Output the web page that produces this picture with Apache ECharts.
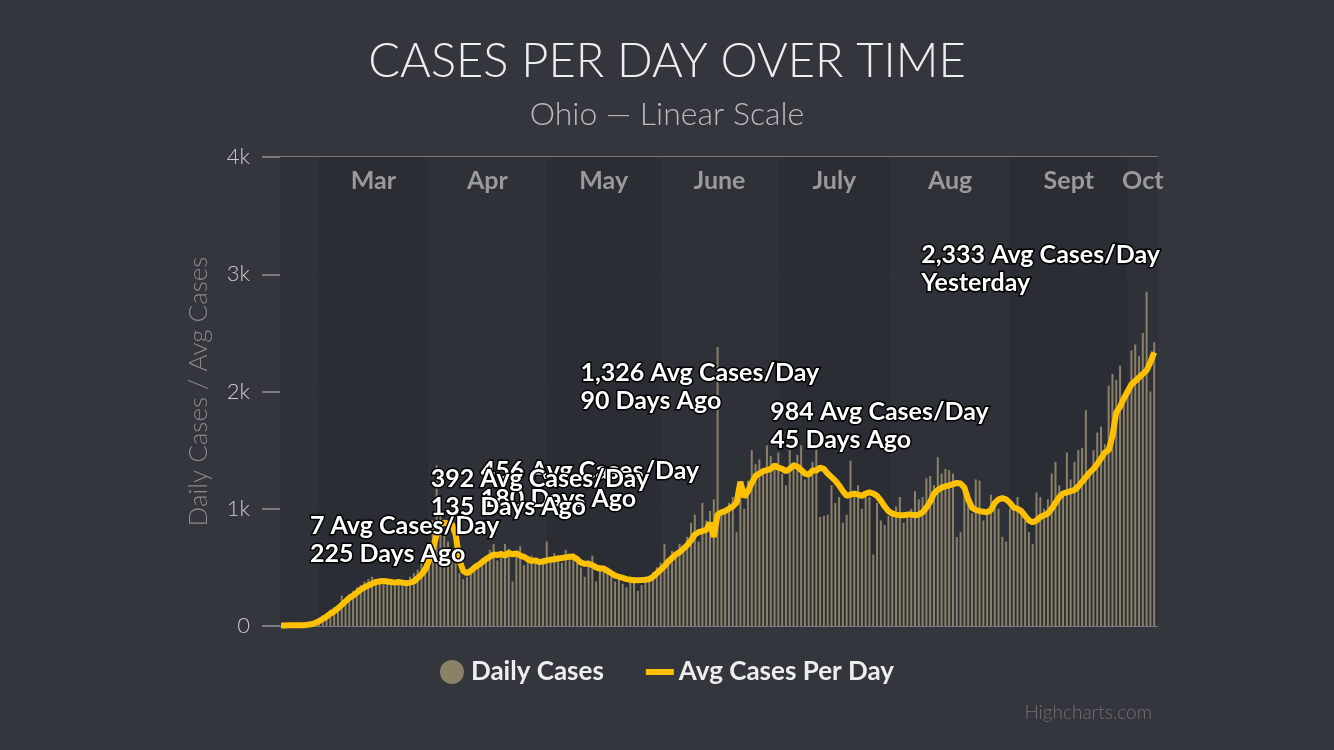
<!DOCTYPE html>
<html><head><meta charset="utf-8">
<script src="https://cdn.jsdelivr.net/npm/echarts@6/dist/echarts.min.js"></script>
<style>html,body{margin:0;background:#33363d}#c{width:1334px;height:750px}</style>
</head><body><div id="c"></div>
<script>
const avgCases = [null,null,null,null,null,5,5,6,7,7,
7,7,10,15,25,40,60,80,105,125,
150,180,210,240,260,285,310,330,345,360,
375,380,385,380,375,370,375,370,365,370,
380,410,440,480,560,660,780,870,880,875,
870,780,560,470,450,470,500,520,545,570,
590,610,605,615,600,625,610,620,600,590,
570,555,560,545,550,560,565,570,575,580,
585,590,590,570,540,530,530,520,500,490,
490,470,450,430,420,410,400,395,390,390,
392,395,400,420,450,480,510,550,580,610,
630,660,690,730,780,800,810,820,880,760,
950,970,980,1000,1020,1050,1230,1100,1150,1220,
1280,1300,1320,1330,1340,1370,1350,1340,1320,1340,
1370,1360,1330,1300,1290,1326,1326,1350,1340,1300,
1270,1240,1200,1150,1110,1120,1130,1120,1110,1130,
1140,1130,1110,1070,1020,980,960,950,945,945,
950,950,945,950,970,1010,1060,1130,1160,1180,
1190,1200,1210,1220,1215,1180,1080,1010,990,980,
975,970,990,1050,1080,1090,1080,1050,1010,1000,
980,940,900,885,900,930,945,960,1000,1050,
1100,1130,1140,1150,1160,1190,1230,1270,1310,1340,
1380,1430,1480,1500,1620,1820,1870,1940,2000,2060,
2090,2120,2150,2180,2250,2333];
const dailyCases = [null,null,null,null,null,3,2,4,5,8,
10,15,20,30,50,70,90,110,140,160,
180,260,240,270,300,330,350,380,400,420,
390,410,380,360,400,370,350,390,380,420,
450,480,540,620,700,900,1370,1000,780,720,
650,560,450,400,420,480,500,540,580,600,
650,700,560,640,700,660,380,620,680,520,
560,600,540,520,580,720,560,620,600,540,
650,560,620,540,500,420,560,600,380,520,
480,500,430,380,400,360,330,420,380,300,
350,420,380,460,500,540,700,560,640,600,
700,680,760,880,950,720,1050,900,980,1080,
2380,960,1000,1050,1100,800,1200,1000,1240,1500,
1380,1420,1300,1540,1450,1380,1480,1300,1200,1500,
1400,1460,1540,1250,1320,1400,1500,930,940,950,
1200,1050,1100,880,950,1410,1100,1200,1000,1150,
1100,610,1050,900,860,940,980,1020,1100,880,
950,1000,1150,1080,1100,1260,1280,1200,1440,1300,
1340,1330,1300,760,800,1200,1080,960,1250,1240,
900,980,1120,1060,1000,760,720,1000,1040,1100,
1000,900,800,700,1140,1100,1000,1080,1300,1400,
1200,1150,1480,1250,1400,1500,1520,1840,1300,1500,
1650,1700,1550,2050,2150,2100,2220,1900,2000,2350,
2400,2300,2500,2850,2000,2420];
const monthNames = ['', 'Mar', 'Apr', 'May', 'June', 'July', 'Aug', 'Sept', 'Oct'];
const monthStarts = [4.8, 15, 43.7, 75, 105, 136, 165.5, 197, 228];
const monthEnds   = [15, 43.7, 75, 105, 136, 165.5, 197, 228, 236];
const notes = [
  {i:55, t:'456 Avg Cases/Day\n180 Days Ago', off:[10,-114]},
  {i:10, t:'7 Avg Cases/Day\n225 Days Ago', off:[10,-113]},
  {i:100, t:'392 Avg Cases/Day\n135 Days Ago', off:[-211,-115]},
  {i:145, t:'1,326 Avg Cases/Day\n90 Days Ago', off:[-232,-112]},
  {i:190, t:'984 Avg Cases/Day\n45 Days Ago', off:[-213,-114]},
  {i:235, t:'2,333 Avg Cases/Day\nYesterday', off:[-233,-112]}
];
const bandColors = ['#2e3137','#2a2d33','#2e3137','#2a2d33','#2e3137','#2a2d33','#2e3137','#2a2d33','#2e3137'];

const chart = echarts.init(document.getElementById('c'));
const F = 'Lato, "Open Sans", sans-serif';
chart.setOption({
  backgroundColor:'#33363d',
  animation:false,
  title:[
    {text:'CASES PER DAY OVER TIME', left:'center', top:33, textStyle:{color:'#eeeeee', fontSize:47, fontWeight:300, fontFamily:F}},
    {text:'Ohio — Linear Scale', left:'center', top:94, textStyle:{color:'#bbbbbb', fontSize:32, fontWeight:300, fontFamily:F}},
    {text:'Highcharts.com', right:177, top:698, textStyle:{color:'#707070', fontSize:19, fontWeight:300, fontFamily:F}}
  ],
  legend:{bottom:60, left:'center', itemGap:42, itemWidth:28, itemHeight:24,
    textStyle:{color:'#eeeeee', fontSize:26, fontWeight:'bold', fontFamily:F},
    data:[{name:'Daily Cases', icon:'circle', itemStyle:{color:'#8b8068'}},
          {name:'Avg Cases Per Day', icon:'path://M0,10 L28,10 L28,16 L0,16 Z', itemStyle:{color:'#ffc000'}}]},
  grid:{left:262, right:176, top:157, bottom:124},
  xAxis:{type:'value', min:0, max:236, show:false},
  yAxis:{type:'value', min:0, max:4000, interval:1000,
    name:'Daily Cases / Avg Cases', nameLocation:'middle', nameGap:50,
    nameTextStyle:{color:'#8a8a8a', fontSize:26, fontWeight:300, fontFamily:F},
    axisLabel:{color:'#cccccc', fontSize:22, fontWeight:300, fontFamily:F, margin:12,
      formatter:v => v===0 ? '0' : (v/1000)+'k'},
    axisTick:{show:false}, axisLine:{show:false},
    splitLine:{lineStyle:{color:'#7a7a7a', width:2}}},
  series:[
    {name:'Daily Cases', type:'bar', barWidth:2, z:2,
     itemStyle:{color:'#8b8068'},
     data: dailyCases.map((v,i)=>[i,v]),
     markArea:{silent:true, z:1,
       label:{position:'insideTop', distance:11, color:'#9a9a9a', fontSize:25, fontWeight:'bold', fontFamily:F},
       data: monthNames.map((n,k)=>[{name:n, xAxis:monthStarts[k], yAxis:4000, itemStyle:{color:bandColors[k]}},{xAxis:monthEnds[k], yAxis:0}])}},
    {name:'Avg Cases Per Day', type:'line', showSymbol:false, z:3,
     lineStyle:{color:'#ffc000', width:6}, itemStyle:{color:'#ffc000'},
     data: avgCases.map((v,i)=>[i,v]),
     markPoint:{symbol:'circle', symbolSize:0, z:5,
       label:{show:true, position:'inside', align:'left', verticalAlign:'top', lineHeight:28,
         color:'#ffffff', fontSize:25, fontWeight:'bold', fontFamily:F, textBorderColor:'#000', textBorderWidth:3},
       data: notes.map(n=>({coord:[n.i, avgCases[n.i]], label:{formatter:n.t, offset:n.off}}))}}
  ]
});
</script></body></html>
